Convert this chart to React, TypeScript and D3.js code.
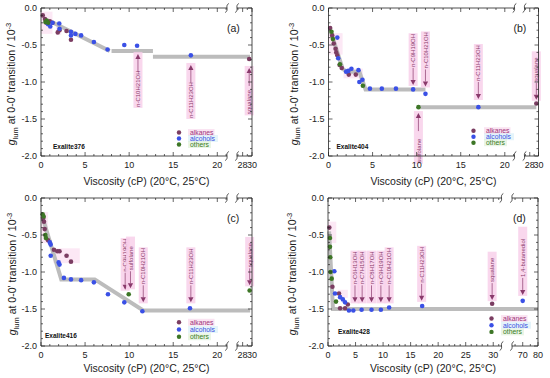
import React, { useEffect, useRef } from 'react';
import * as d3 from 'd3';

type Pt = [number, number];
type Note = { x: number; y: number; dir: 'up' | 'down'; label: string };

// ---- panel (a) Exalite376
const alkanesA: Pt[] = [[0.2, -0.1], [0.45, -0.15], [0.6, -0.2], [1.0, -0.18], [1.3, -0.2], [1.9, -0.33], [2.1, -0.3], [2.9, -0.31], [3.4, -0.43], [29.4, -0.69]];
const alcoholsA: Pt[] = [[0.8, -0.22], [1.05, -0.25], [1.3, -0.2], [2.07, -0.21], [2.1, -0.28], [3.4, -0.32], [3.4, -0.37], [3.9, -0.35], [4.55, -0.37], [6.0, -0.46], [7.55, -0.56], [9.45, -0.5], [10.9, -0.51], [17, -0.64]];
const othersA: Pt[] = [[0.5, -0.19], [0.65, -0.17], [0.8, -0.2]];
const guideA: Pt[][] = [[[1.4, -0.2], [7.8, -0.58]], [[8.0, -0.58], [12.7, -0.58]], [[12.7, -0.66], [29.6, -0.66]]];
const notesA: Note[] = [
  { x: 11, y: -0.62, dir: 'up', label: 'n-C10H21OH' },
  { x: 17, y: -0.77, dir: 'up', label: 'n-C11H23OH' },
  { x: 29.4, y: -0.81, dir: 'up', label: 'squalane' },
];
const patchesA: number[][] = [[0, 1.3, -0.05, -0.35], [1.7, 2.3, -0.25, -0.36]];

// ---- panel (b) Exalite404
const alkanesB: Pt[] = [[0.19, -0.27], [0.42, -0.37], [0.6, -0.48], [0.8, -0.55], [0.88, -0.6], [1.0, -0.64], [1.26, -0.77], [1.5, -0.81], [2.3, -0.9], [3.1, -0.9], [29.5, -1.29]];
const alcoholsB: Pt[] = [[1.0, -0.4], [1.1, -0.68], [2.0, -0.86], [2.25, -0.85], [2.6, -0.82], [3.4, -0.84], [3.5, -1.0], [3.85, -0.97], [4.7, -1.09], [6.05, -1.09], [7.65, -1.09], [9.6, -1.1], [11, -1.16], [17, -1.34]];
const othersB: Pt[] = [[0.34, -0.32], [0.5, -0.42], [1.3, -0.76], [3.9, -1.05], [10.2, -1.34]];
const guideB: Pt[][] = [[[0.2, -0.3], [1.6, -0.82], [2.0, -0.86], [3.5, -0.86], [4.2, -1.1], [11, -1.1]], [[10.2, -1.34], [29.5, -1.34]]];
const notesB: Note[] = [
  { x: 9.6, y: -1.04, dir: 'down', label: 'n-C9H19OH' },
  { x: 11, y: -1.06, dir: 'down', label: 'n-C10H21OH' },
  { x: 17, y: -1.23, dir: 'down', label: 'n-C11H23OH' },
  { x: 29.5, y: -1.24, dir: 'down', label: 'squalane' },
  { x: 10.2, y: -1.42, dir: 'up', label: 'sulfolane' },
];
const patchesB: number[][] = [[0, 1.6, -0.34, -0.63], [1.7, 3.9, -0.82, -0.95]];

// ---- panel (c) Exalite416
const alkanesC: Pt[] = [[0.26, -0.27], [0.34, -0.32], [0.42, -0.42], [0.8, -0.57], [1.47, -0.7], [1.85, -0.72], [2.1, -0.72], [2.9, -0.78], [3.4, -0.86]];
const alcoholsC: Pt[] = [[1.0, -0.6], [1.1, -0.63], [1.1, -0.78], [2.0, -0.87], [2.1, -0.9], [2.6, -1.08], [3.4, -1.1], [4.55, -1.11], [6.0, -1.14], [7.6, -1.3], [9.45, -1.41], [11.5, -1.53], [16.9, -1.49]];
const othersC: Pt[] = [[0.19, -0.22], [0.3, -0.25], [0.49, -0.5], [0.56, -0.54], [9.95, -1.3], [29.5, -1.25]];
const guideC: Pt[][] = [[[0.15, -0.25], [2.3, -1.1], [6.1, -1.1], [11.6, -1.52], [29.6, -1.52]]];
const notesC: Note[] = [
  { x: 9.55, y: -1.24, dir: 'down', label: 'n-C9H19OH' },
  { x: 10.15, y: -1.22, dir: 'down', label: 'sulfolane' },
  { x: 11.6, y: -1.41, dir: 'down', label: 'n-C10H21OH' },
  { x: 17, y: -1.41, dir: 'down', label: 'n-C11H23OH' },
  { x: 29.5, y: -1.18, dir: 'down', label: 'squalane' },
];
const patchesC: number[][] = [[0, 0.8, -0.19, -0.61], [1.4, 4.4, -0.68, -0.88]];

// ---- panel (d) Exalite428
const alkanesD: Pt[] = [[0.24, -0.4], [0.8, -1.2], [2.0, -1.29], [2.2, -1.49], [3.1, -1.49], [3.6, -1.44], [29.8, -1.43]];
const alcoholsD: Pt[] = [[1.15, -0.99], [1.27, -1.29], [2.2, -1.34], [2.7, -1.37], [3.1, -1.41], [3.8, -1.52], [4.6, -1.52], [6.1, -1.51], [7.9, -1.51], [9.6, -1.51], [11.1, -1.48], [17.1, -1.46], [70, -1.39]];
const othersD: Pt[] = [[0.36, -0.54], [0.36, -0.66], [0.4, -0.8], [0.45, -1.0], [0.67, -1.09], [1.45, -1.4]];
const guideD: Pt[][] = [[[0.2, -0.45], [0.9, -1.5], [80, -1.5]]];
const notesD: Note[] = [
  { x: 4.9, y: -1.41, dir: 'down', label: 'n-C6H13OH' },
  { x: 6.2, y: -1.41, dir: 'down', label: 'n-C7H15OH' },
  { x: 7.9, y: -1.41, dir: 'down', label: 'n-C8H17OH' },
  { x: 9.6, y: -1.41, dir: 'down', label: 'n-C9H19OH' },
  { x: 11.1, y: -1.41, dir: 'down', label: 'n-C10H21OH' },
  { x: 17, y: -1.39, dir: 'down', label: 'n-C11H23OH' },
  { x: 29.8, y: -1.38, dir: 'down', label: 'squalane' },
  { x: 70, y: -1.31, dir: 'down', label: '1,4-butanediol' },
];
const patchesD: number[][] = [[0, 1.5, -0.32, -0.61], [1.8, 3.6, -1.24, -1.35]];

// axis ticks
const yTicks = [0, -0.5, -1, -1.5, -2];
const xTicksShort = [0, 5, 10, 15, 20];
const xTicksShort2 = [28, 30];
const xTicksLong = [0, 5, 10, 15, 20, 25, 30];
const xTicksLong2 = [70, 80];
const legendNames = ['alkanes', 'alcohols', 'others'];

const dotColors = ['#7b3d62', '#3a50e6', '#3d7626'];
const legendText = ['#a0357a', '#3a4fe0', '#3a7a1a'];
const legendBg = ['#f7d2ea', '#d3ecf7', '#dcefd6'];
const pink = '#f8cde8';
const noteColor = '#8a3a6c';
const font = "'Liberation Sans', Arial, sans-serif";

const axes: any = {
  short: { seg1: [0, 21.1], w1: 186, gap: 10, seg2: [26.8, 30], major: xTicksShort, major2: xTicksShort2, minorMax: 21, minor2: [27, 29] },
  long: { seg1: [0, 31.5], w1: 173.5, gap: 10.5, seg2: [63, 80], major: xTicksLong, major2: xTicksLong2, minorMax: 31, minor2: [65, 75] },
};

const panels = [
  { tag: '(a)', name: 'Exalite376', left: 41, right: 252, top: 8, bottom: 156, axis: 'short', series: [alkanesA, alcoholsA, othersA], guide: guideA, notes: notesA, patches: patchesA, legend: [138, 124.5, 6, 11], nameAt: [12, 140.5], titleDy: 29, ylabDx: 26 },
  { tag: '(b)', name: 'Exalite404', left: 328.5, right: 538.5, top: 8, bottom: 156, axis: 'short', series: [alkanesB, alcoholsB, othersB], guide: guideB, notes: notesB, patches: patchesB, legend: [145, 122.7, 6, 12.5], nameAt: [8, 140.5], titleDy: 29, ylabDx: 31 },
  { tag: '(c)', name: 'Exalite416', left: 41, right: 252, top: 198, bottom: 346, axis: 'short', series: [alkanesC, alcoholsC, othersC], guide: guideC, notes: notesC, patches: patchesC, legend: [138, 124.3, 7.2, 11], nameAt: [4, 140], titleDy: 26, ylabDx: 25 },
  { tag: '(d)', name: 'Exalite428', left: 328, right: 538, top: 198, bottom: 346, axis: 'long', series: [alkanesD, alcoholsD, othersD], guide: guideD, notes: notesD, patches: patchesD, legend: [163.5, 120.5, 6.7, 11.5], nameAt: [10, 136], titleDy: 26, ylabDx: 32 },
];

const fmtY = (v: number) => (Math.abs(v) < 1e-9 ? '0.0' : v.toFixed(1));

function drawPanel(svg: any, p: any) {
  const ax = axes[p.axis];
  const s1 = d3.scaleLinear().domain(ax.seg1).range([p.left, p.left + ax.w1]);
  const s2 = d3.scaleLinear().domain(ax.seg2).range([p.left + ax.w1 + ax.gap, p.right]);
  const x = (v: number) => (v <= ax.seg1[1] ? s1(v) : s2(v));
  const y = d3.scaleLinear().domain([-2, 0]).range([p.bottom, p.top]);
  const b1 = p.left + ax.w1;
  const b2 = b1 + ax.gap;
  const g = svg.append('g');

  // faint highlight patches
  p.patches.forEach((r: number[]) => {
    g.append('rect')
      .attr('x', x(r[0])).attr('y', y(r[2]))
      .attr('width', x(r[1]) - x(r[0])).attr('height', y(r[3]) - y(r[2]))
      .attr('fill', pink).attr('opacity', 0.45);
  });

  // grey guide lines
  const line = d3.line<Pt>().x(d => x(d[0])).y(d => y(d[1]));
  p.guide.forEach((seg: Pt[]) => {
    g.append('path').attr('d', line(seg)).attr('fill', 'none')
      .attr('stroke', '#bcbcbc').attr('stroke-width', 4);
  });

  // annotations (arrow + rotated label)
  p.notes.forEach((n: Note) => {
    const px = x(n.x), py = y(n.y);
    const tri = 5, shaft = 13;
    const len = n.label.length * 3.3 + 2;
    const ng = g.append('g');
    let textStart: number;
    if (n.dir === 'down') {
      textStart = py - tri - shaft;
      const top = textStart - len;
      ng.append('rect').attr('x', px - 4.5).attr('y', top - 2).attr('width', 9).attr('height', py - top + 3).attr('fill', pink).attr('opacity', 0.8);
      ng.append('line').attr('x1', px).attr('x2', px).attr('y1', textStart + 1).attr('y2', py - tri).attr('stroke', noteColor).attr('stroke-width', 0.7);
      ng.append('path').attr('d', `M${px - 2.6},${py - tri}L${px + 2.6},${py - tri}L${px},${py}Z`).attr('fill', noteColor);
    } else {
      const shaftEnd = py + tri + shaft;
      textStart = shaftEnd + len;
      ng.append('rect').attr('x', px - 4.5).attr('y', py - 2).attr('width', 9).attr('height', textStart - py + 3).attr('fill', pink).attr('opacity', 0.8);
      ng.append('line').attr('x1', px).attr('x2', px).attr('y1', py + tri).attr('y2', shaftEnd).attr('stroke', noteColor).attr('stroke-width', 0.7);
      ng.append('path').attr('d', `M${px - 2.6},${py + tri}L${px + 2.6},${py + tri}L${px},${py}Z`).attr('fill', noteColor);
    }
    ng.append('text')
      .attr('transform', `translate(${px + 2.1},${textStart}) rotate(-90)`)
      .attr('font-size', 6).attr('fill', noteColor).attr('font-family', font)
      .text(n.label);
  });

  // data points
  p.series.forEach((pts: Pt[], i: number) => {
    g.selectAll(null).data(pts).enter().append('circle')
      .attr('cx', (d: Pt) => x(d[0])).attr('cy', (d: Pt) => y(d[1]))
      .attr('r', 2.3).attr('fill', dotColors[i]);
  });

  // frame with axis breaks
  const stroke = '#222';
  [p.top, p.bottom].forEach(yy => {
    g.append('line').attr('x1', p.left).attr('x2', b1).attr('y1', yy).attr('y2', yy).attr('stroke', stroke).attr('stroke-width', 0.8);
    g.append('line').attr('x1', b2).attr('x2', p.right).attr('y1', yy).attr('y2', yy).attr('stroke', stroke).attr('stroke-width', 0.8);
    [b1, b2].forEach(bx => {
      g.append('path').attr('d', `M${bx - 1.8},${yy + 4.5}C${bx + 2.5},${yy + 2} ${bx - 2.5},${yy - 2} ${bx + 1.8},${yy - 4.5}`)
        .attr('fill', 'none').attr('stroke', stroke).attr('stroke-width', 0.8);
    });
  });
  [p.left, p.right].forEach(xx => {
    g.append('line').attr('x1', xx).attr('x2', xx).attr('y1', p.top).attr('y2', p.bottom).attr('stroke', stroke).attr('stroke-width', 0.8);
  });

  // x ticks
  const minors = d3.range(0, ax.minorMax + 1).filter((v: number) => !ax.major.includes(v));
  const tick = (xx: number, len: number) => {
    g.append('line').attr('x1', xx).attr('x2', xx).attr('y1', p.bottom).attr('y2', p.bottom - len).attr('stroke', stroke).attr('stroke-width', 0.7);
    g.append('line').attr('x1', xx).attr('x2', xx).attr('y1', p.top).attr('y2', p.top + len).attr('stroke', stroke).attr('stroke-width', 0.7);
  };
  minors.forEach((v: number) => tick(s1(v), 2));
  ax.minor2.forEach((v: number) => tick(s2(v), 2));
  ax.major.forEach((v: number) => tick(s1(v), 4));
  ax.major2.forEach((v: number) => tick(s2(v), 4));
  const xl = g.append('g').attr('font-family', font).attr('font-size', 9).attr('text-anchor', 'middle').attr('fill', '#222');
  ax.major.forEach((v: number) => xl.append('text').attr('x', s1(v)).attr('y', p.bottom + 12).text(v));
  ax.major2.forEach((v: number) => xl.append('text').attr('x', s2(v)).attr('y', p.bottom + 12).text(v));

  // y ticks
  d3.range(0, 21).map((i: number) => -i / 10).forEach((v: number) => {
    const major = Math.abs(v * 2 - Math.round(v * 2)) < 1e-6;
    const len = major ? 4 : 2;
    g.append('line').attr('x1', p.left).attr('x2', p.left + len).attr('y1', y(v)).attr('y2', y(v)).attr('stroke', stroke).attr('stroke-width', 0.7);
    g.append('line').attr('x1', p.right).attr('x2', p.right - len).attr('y1', y(v)).attr('y2', y(v)).attr('stroke', stroke).attr('stroke-width', 0.7);
  });
  yTicks.forEach(v => {
    g.append('text').attr('x', p.left - 4).attr('y', y(v) + 3.2).attr('text-anchor', 'end')
      .attr('font-family', font).attr('font-size', 9).attr('fill', '#222').text(fmtY(v));
  });

  // axis titles
  g.append('text').attr('x', (p.left + p.right) / 2).attr('y', p.bottom + p.titleDy)
    .attr('text-anchor', 'middle').attr('font-family', font).attr('font-size', 10.5).attr('fill', '#222')
    .text('Viscosity (cP) (20°C, 25°C)');
  const yl = g.append('text')
    .attr('transform', `translate(${p.left - p.ylabDx},${(p.top + p.bottom) / 2 + 2}) rotate(-90)`)
    .attr('text-anchor', 'middle').attr('font-family', font).attr('font-size', 10.5).attr('fill', '#222');
  yl.append('tspan').attr('font-style', 'italic').text('g');
  yl.append('tspan').attr('font-size', 7.5).attr('dy', 2.5).text('lum');
  yl.append('tspan').attr('dy', -2.5).text(' at 0-0\' transition / 10');
  yl.append('tspan').attr('font-size', 7.5).attr('dy', -4).text('-3');

  // panel tag and dye name
  g.append('text').attr('x', p.right - 25).attr('y', p.top + 24).attr('font-family', font).attr('font-size', 10.5).attr('fill', '#222').text(p.tag);
  g.append('text').attr('x', p.left + p.nameAt[0]).attr('y', p.top + p.nameAt[1]).attr('font-family', font).attr('font-size', 6.5).attr('font-weight', 'bold').attr('fill', '#111').text(p.name);

  // legend
  const [lx, ly, step, off] = p.legend;
  legendNames.forEach((name, i) => {
    const cy = p.top + ly + i * step;
    g.append('rect').attr('x', p.left + lx + off - 2).attr('y', cy - 3.5).attr('width', name.length * 3.5 + 2).attr('height', 7).attr('fill', legendBg[i]).attr('opacity', 0.6);
    g.append('circle').attr('cx', p.left + lx).attr('cy', cy).attr('r', 2.2).attr('fill', dotColors[i]);
    g.append('text').attr('x', p.left + lx + off).attr('y', cy + 2.3).attr('font-family', font).attr('font-size', 6.8).attr('fill', legendText[i]).text(name);
  });
}

const App = () => {
  const ref = useRef<SVGSVGElement>(null);

  useEffect(() => {
    const svg = d3.select(ref.current);
    svg.selectAll('*').remove();
    svg.append('rect').attr('width', 550).attr('height', 378).attr('fill', '#fff');
    panels.forEach(p => drawPanel(svg, p));
  }, []);

  return (
    <svg ref={ref} width={550} height={378} style={{ position: 'absolute', left: 0, top: 0 }} />
  );
};

export default App;
